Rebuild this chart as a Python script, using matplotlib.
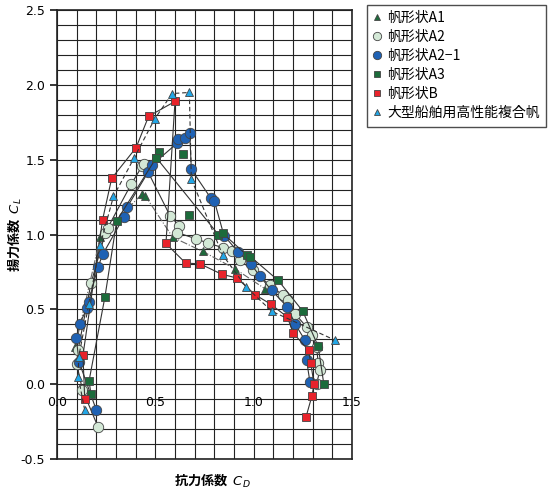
import numpy as np
import matplotlib
matplotlib.use("Agg")
import matplotlib.pyplot as plt
from matplotlib.lines import Line2D

plt.rcParams['font.family'] = ['Noto Sans CJK JP', 'DejaVu Sans']

# 帆形状A1 (triangles, dash-dot)
a1_cd = [0.092, 0.220, 0.432, 0.449, 0.588, 0.741, 0.905, 1.057]
a1_cl = [0.245, 0.982, 1.271, 1.258, 0.982, 0.887, 0.771, 0.638]

# 帆形状A2 (pale circles)
a2_cd = [0.208, 0.129, 0.100, 0.107, 0.173, 0.246, 0.258, 0.378, 0.432, 0.442,
         0.576, 0.622, 0.612, 0.707, 0.769, 0.846, 0.888, 0.930, 0.998, 1.083,
         1.150, 1.176, 1.210, 1.269, 1.295, 1.320, 1.328, 1.337, 1.320]
a2_cl = [-0.284, -0.036, 0.138, 0.227, 0.675, 1.011, 1.045, 1.338, 1.455, 1.473,
         1.122, 1.058, 1.013, 0.971, 0.942, 0.911, 0.889, 0.827, 0.760, 0.660,
         0.593, 0.560, 0.471, 0.382, 0.327, 0.249, 0.142, 0.093, 0.004]

# 帆形状A2-1 (blue circles)
a21_cd = [0.200, 0.112, 0.098, 0.115, 0.154, 0.161, 0.208, 0.234, 0.341, 0.357,
          0.464, 0.485, 0.610, 0.615, 0.651, 0.675, 0.683, 0.781, 0.800, 0.849,
          0.922, 0.986, 1.032, 1.091, 1.171, 1.210, 1.261, 1.269, 1.286]
a21_cl = [-0.173, 0.149, 0.309, 0.404, 0.511, 0.551, 0.782, 0.871, 1.120, 1.184,
          1.418, 1.467, 1.609, 1.638, 1.647, 1.675, 1.435, 1.245, 1.225, 0.993,
          0.882, 0.804, 0.720, 0.627, 0.516, 0.404, 0.293, 0.160, 0.016]

# 帆形状A3 (dark green squares); NaN splits off unconnected points
a3_cd = [0.173, 0.163, 0.244, 0.304, 0.505, 0.517, 0.505, 0.820, 0.842, 0.967,
         0.983, 1.125, 1.249, 1.328, 1.357, np.nan, 0.639, np.nan, 0.673]
a3_cl = [-0.069, 0.022, 0.585, 1.093, 1.513, 1.553, 1.513, 1.000, 1.009, 0.860,
         0.853, 0.693, 0.489, 0.253, -0.002, np.nan, 1.535, np.nan, 1.131]

# 帆形状B (red squares)
b_cd = [0.141, 0.132, 0.232, 0.278, 0.402, 0.466, 0.600, 0.554, 0.654, 0.727,
        0.837, 0.915, 1.007, 1.086, 1.171, 1.201, 1.280, 1.290, 1.307, 1.296, 1.266]
b_cl = [-0.098, 0.193, 1.100, 1.375, 1.580, 1.790, 1.889, 0.940, 0.809, 0.804,
        0.735, 0.709, 0.598, 0.535, 0.449, 0.342, 0.225, 0.142, 0.000, -0.080, -0.220]

# 大型船舶用高性能複合帆 (light blue triangles, dashed)
big_cd = [0.141, 0.108, 0.110, 0.162, 0.220, 0.287, 0.391, 0.498, 0.586, 0.673,
          0.683, 0.842, 0.962, 1.092, 1.415]
big_cl = [-0.173, 0.049, 0.180, 0.537, 0.932, 1.254, 1.509, 1.775, 1.942, 1.949,
          1.371, 0.864, 0.649, 0.487, 0.293]

labels = ['帆形状A1', '帆形状A2', '帆形状A2−1', '帆形状A3', '帆形状B', '大型船舶用高性能複合帆']

fig = plt.figure(figsize=(5.5, 4.91), dpi=100)
ax = fig.add_axes([57 / 550, 32 / 491, 295 / 550, 449 / 491])

line_col = '#333333'
edge = '#444444'

styles = [
    dict(marker='^', mfc='#1e6a3c', ms=5.5, ls='-.', color='#666666'),
    dict(marker='o', mfc='#d3e8d6', ms=7.5, ls='-', color=line_col),
    dict(marker='o', mfc='#1f62b4', ms=7.5, ls='-', color=line_col),
    dict(marker='s', mfc='#1c6b3b', ms=6, ls='-', color=line_col),
    dict(marker='s', mfc='#e8232b', ms=6, ls='-', color=line_col),
    dict(marker='^', mfc='#22a6e6', ms=5.5, ls=(0, (4, 2.5)), color=line_col),
]
series = [(a1_cd, a1_cl), (a2_cd, a2_cl), (a21_cd, a21_cl),
          (a3_cd, a3_cl), (b_cd, b_cl), (big_cd, big_cl)]

for (xs, ys), st in zip(series, styles):
    ax.plot(xs, ys, lw=0.8, mec=edge, mew=0.6, zorder=3, **st)

ax.set_xlim(0, 1.5)
ax.set_ylim(-0.5, 2.5)
ax.set_xticks(np.arange(0, 1.51, 0.1), minor=True)
ax.set_yticks(np.arange(-0.5, 2.51, 0.1), minor=True)
ax.set_yticks(np.arange(-0.5, 2.51, 0.5))
ax.set_xticks([])
ax.grid(which='both', color='#222222', lw=0.8)
ax.set_axisbelow(True)
for s in ax.spines.values():
    s.set_linewidth(1.2)
    s.set_color('#222222')
ax.tick_params(axis='y', which='major', length=5, width=1.1, labelsize=9, direction='out')
ax.tick_params(axis='y', which='minor', length=0)
ax.tick_params(axis='x', which='minor', length=0)
ax.set_yticklabels([f'{v:.1f}' for v in np.arange(-0.5, 2.51, 0.5)], family='DejaVu Sans')

# x tick labels sit just under the CL=0 line
for v in [0.0, 0.5, 1.0, 1.5]:
    ax.text(v, -0.125, f'{v:.1f}', ha='center', va='center', fontsize=9,
            family='DejaVu Sans', zorder=5)

fig.text(15 / 550, 1 - 235 / 491, '揚力係数  $C_L$', rotation=90, ha='center', va='center',
         fontsize=9.5, fontweight='bold')
fig.text(212 / 550, 1 - 481 / 491, '抗力係数  $C_D$', ha='center', va='center',
         fontsize=9.5, fontweight='bold')

handles = [Line2D([], [], ls='none', marker=st['marker'], mfc=st['mfc'], mec=edge,
                  mew=0.6, ms=st['ms'] - 1.5) for st in styles]
leg = fig.legend(handles, labels, loc='upper left', bbox_to_anchor=(367 / 550, 1 - 5 / 491),
                 borderaxespad=0, fontsize=10, frameon=True, fancybox=False,
                 handlelength=0.6, handletextpad=0.4, labelspacing=0.36,
                 borderpad=0.45)
leg.get_frame().set_edgecolor('#222222')
leg.get_frame().set_linewidth(1.0)

fig.savefig('out.png', dpi=100)
